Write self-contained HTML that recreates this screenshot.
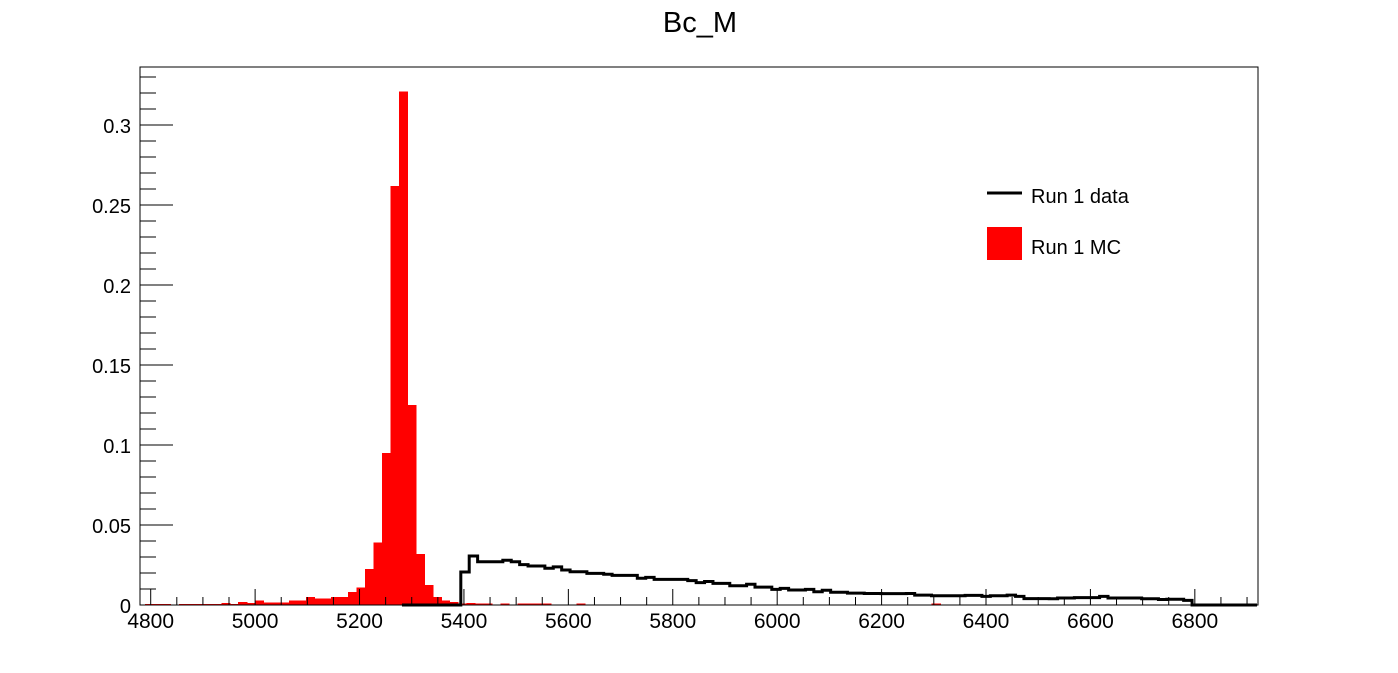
<!DOCTYPE html>
<html><head><meta charset="utf-8"><style>
html,body{margin:0;padding:0;background:#fff;}
svg{display:block;font-family:"Liberation Sans",sans-serif;}
</style></head><body>
<svg id="c" width="1398" height="673" viewBox="0 0 1398 673">
<rect x="0" y="0" width="1398" height="673" fill="#fff"/>
<text x="700" y="32" text-anchor="middle" font-size="29">Bc_M</text>
<g id="marks" shape-rendering="crispEdges"></g>
<g id="axes"></g>
<rect x="140" y="67" width="1118" height="538" fill="none" stroke="#000" stroke-width="1"/>
<g>
<line x1="987" y1="193" x2="1022" y2="193" stroke="#000" stroke-width="3"/>
<text x="1031" y="203" font-size="20">Run 1 data</text>
<rect x="987" y="227" width="35" height="33" fill="#ff0000"/>
<text x="1031" y="254" font-size="20">Run 1 MC</text>
</g>
</svg>
<script>
const xTicks = [4800,5000,5200,5400,5600,5800,6000,6200,6400,6600,6800];
const yTicks = [0,0.05,0.1,0.15,0.2,0.25,0.3];
const yTickLabels = ["0","0.05","0.1","0.15","0.2","0.25","0.3"];
const mcStart = 4773.2, mcWidth = 16.2;
const mcValues = [0,0.0006,0.0006,0.0006,0,0.0006,0.0006,0.0006,0.0006,0.0006,0.0012,0.0006,0.0019,0.0012,0.0027,0.0015,0.0015,0.0015,0.0027,0.0027,0.005,0.004,0.004,0.005,0.005,0.008,0.011,0.0225,0.039,0.095,0.262,0.321,0.125,0.032,0.0125,0.005,0.0027,0.002,0.001,0.0012,0.0008,0.0008,0,0.0008,0,0.0008,0.0008,0.0008,0.0008,0,0,0,0.0008,0,0,0,0,0,0,0,0,0,0,0,0,0,0,0,0,0,0,0,0,0,0,0,0,0,0,0,0,0,0,0,0,0,0,0,0,0,0,0,0,0,0.0008];
const dataStart = 5281.3, dataWidth = 16.1;
const dataValues = [0,0,0,0,0,0,0,
0.0206,0.0306,0.027,0.027,0.027,0.028,0.027,0.0252,0.0244,0.0244,0.023,0.0238,0.0219,0.0208,0.0208,0.0198,0.0198,0.0192,0.0185,0.0185,0.0185,0.0167,0.0173,0.016,0.016,0.016,0.016,0.0152,0.014,0.0147,0.0135,0.0135,0.012,0.012,0.013,0.0112,0.0112,0.0098,0.0104,0.0094,0.0094,0.0098,0.0083,0.0092,0.008,0.008,
0.0074,0.0074,0.0072,0.0072,0.0071,0.0071,0.0071,0.0072,0.0062,0.0062,0.0058,0.0058,0.0058,0.0058,0.006,0.006,0.0054,0.0058,0.0058,0.0062,0.0054,0.004,0.004,0.004,0.0039,0.0044,0.0044,0.0046,0.0046,0.0046,0.0054,0.0044,0.0044,0.0044,0.0044,0.0039,0.0039,0.0034,0.0036,0.0036,0.0029,0];
const xMin=4779.5, xMax=6921, yMax=0.33625;
const L=140,R=1258,T=67,B=605;
function X(v){return L+(v-xMin)/(xMax-xMin)*(R-L);}
function Y(v){return B-v/yMax*(B-T);}
const NS="http://www.w3.org/2000/svg";
const marks=document.getElementById('marks'), axes=document.getElementById('axes');
function mk(tag,attrs,parent){const e=document.createElementNS(NS,tag);for(const k in attrs)e.setAttribute(k,attrs[k]);parent.appendChild(e);return e;}
mcValues.forEach((v,i)=>{
  if(v<=0)return;
  let x0=Math.max(L,X(mcStart+i*mcWidth)), x1=Math.min(R,X(mcStart+(i+1)*mcWidth));
  const r=mk('rect',{x:x0,y:Y(v),width:x1-x0+0.6,height:B-Y(v),fill:'#ff0000'},marks);
  
  
});
let d='M'+X(dataStart)+','+B;
dataValues.forEach((v,i)=>{
  d+=' L'+X(dataStart+i*dataWidth)+','+Y(v)+' L'+X(dataStart+(i+1)*dataWidth)+','+Y(v);
});
d+=' L'+X(dataStart+dataValues.length*dataWidth)+','+B+' L'+(R-1)+','+B;
const p=mk('path',{d:d,fill:'none',stroke:'#000','stroke-width':3,'stroke-linejoin':'miter','shape-rendering':'auto'},document.getElementById('c'));


for(let v=4800;v<=6900;v+=50){
  const major=(v%200===0);
  const t=mk('line',{x1:X(v),x2:X(v),y1:B,y2:B-(major?16:8),stroke:'#000','stroke-width':1},axes);
  
  
}
xTicks.forEach(v=>{
  const t=mk('text',{x:X(v),y:B+23,'text-anchor':'middle','font-size':21},axes);
  t.textContent=v;
  
  
});
for(let k=0;k<=33;k++){
  const v=k*0.01, major=(k%5===0);
  const t=mk('line',{x1:L,x2:L+(major?33:16),y1:Y(v),y2:Y(v),stroke:'#000','stroke-width':1},axes);
  
  
}
yTicks.forEach((v,i)=>{
  const t=mk('text',{x:131,y:Y(v)+8,'text-anchor':'end','font-size':20},axes);
  t.textContent=yTickLabels[i];
  
  
});
</script>
</body></html>
